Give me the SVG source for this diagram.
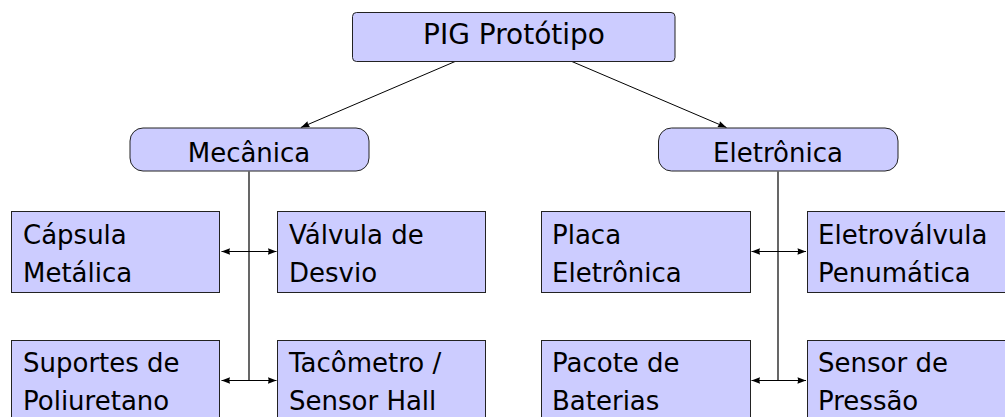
<svg xmlns="http://www.w3.org/2000/svg" width="1005" height="417" viewBox="0 0 1005 417">
<defs>
<style>
.box{fill:#ccccff;stroke:#222;stroke-width:1}
.t{font-family:"DejaVu Sans",sans-serif;font-size:26px;fill:#000}
.big{font-size:28px}
.c{text-anchor:middle}
.ln{fill:none;stroke:#000;stroke-width:1.2}
.ar{fill:none;stroke:#000;stroke-width:1;marker-end:url(#ah)}
.dar{fill:none;stroke:#000;stroke-width:1;marker-start:url(#ahs);marker-end:url(#ah)}
</style>
<marker id="ah" markerUnits="userSpaceOnUse" viewBox="-9 -4 10 8" refX="0" refY="0" markerWidth="10" markerHeight="8" orient="auto">
<path d="M0,0 L-8.5,-3.2 Q-7,0 -8.5,3.2 Z" fill="#000"/>
</marker>
<marker id="ahs" markerUnits="userSpaceOnUse" viewBox="-1 -4 10 8" refX="0" refY="0" markerWidth="10" markerHeight="8" orient="auto">
<path d="M0,0 L8.5,-3.2 Q7,0 8.5,3.2 Z" fill="#000"/>
</marker>
</defs>
<rect width="1005" height="417" fill="#fff"/>

<g id="connectors">
<path class="ar" d="M455.1,61.5 L300.9,127.5"/>
<path class="ar" d="M571.9,61.5 L726.5,127.5"/>
<path class="ln" d="M249,171.5 V380.5"/>
<path class="ln" d="M778,171.5 V380.5"/>
<path class="dar" d="M221.5,251.5 H276.5"/>
<path class="dar" d="M221.5,380.5 H276.5"/>
<path class="dar" d="M751.5,251.5 H806"/>
<path class="dar" d="M751.5,380.5 H806"/>
</g>

<g id="pig">
<rect class="box" x="352.5" y="12.5" width="322.5" height="49" rx="4"/>
<text class="t big c" x="514" y="44">PIG Protótipo</text>
</g>

<g id="mecanica">
<rect class="box" x="130" y="128" width="239" height="43" rx="13"/>
<text class="t c" x="249" y="162">Mecânica</text>
</g>

<g id="eletronica">
<rect class="box" x="658.5" y="128" width="239.5" height="43" rx="13"/>
<text class="t c" x="778" y="161.5">Eletrônica</text>
</g>

<g id="capsula">
<rect class="box" x="11.5" y="211.5" width="208" height="81"/>
<text class="t" x="23" y="244">Cápsula</text>
<text class="t" x="23" y="282">Metálica</text>
</g>

<g id="valvula">
<rect class="box" x="277.5" y="211.5" width="208" height="81"/>
<text class="t" x="289" y="244">Válvula de</text>
<text class="t" x="289" y="282">Desvio</text>
</g>

<g id="suportes">
<rect class="box" x="11.5" y="340.5" width="208" height="81"/>
<text class="t" x="23" y="372">Suportes de</text>
<text class="t" x="23" y="410">Poliuretano</text>
</g>

<g id="tacometro">
<rect class="box" x="277.5" y="340.5" width="208" height="81"/>
<text class="t" x="289" y="372">Tacômetro /</text>
<text class="t" x="289" y="410">Sensor Hall</text>
</g>

<g id="placa">
<rect class="box" x="541.5" y="211.5" width="209" height="81"/>
<text class="t" x="552" y="244">Placa</text>
<text class="t" x="552" y="282">Eletrônica</text>
</g>

<g id="eletrovalvula">
<rect class="box" x="807.5" y="211.5" width="209" height="81"/>
<text class="t" x="818" y="244">Eletroválvula</text>
<text class="t" x="818" y="282">Penumática</text>
</g>

<g id="pacote">
<rect class="box" x="541.5" y="340.5" width="209" height="81"/>
<text class="t" x="552" y="372">Pacote de</text>
<text class="t" x="552" y="410">Baterias</text>
</g>

<g id="sensor">
<rect class="box" x="807.5" y="340.5" width="209" height="81"/>
<text class="t" x="818" y="372">Sensor de</text>
<text class="t" x="818" y="410">Pressão</text>
</g>
</svg>
